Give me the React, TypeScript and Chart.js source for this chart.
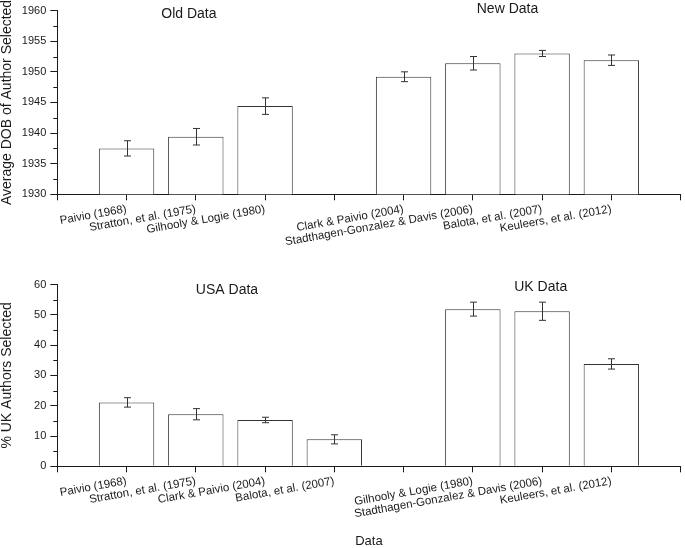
import React, { useEffect, useRef } from "react";
import { Chart, registerables } from "chart.js";

Chart.register(...registerables);

// ---------- DATA ----------
const topCategories = [
  "",
  "Paivio (1968)",
  "Stratton, et al. (1975)",
  "Gilhooly & Logie (1980)",
  "",
  "Clark & Paivio (2004)",
  "Stadthagen-Gonzalez & Davis (2006)",
  "Balota, et al. (2007)",
  "Keuleers, et al. (2012)",
  "",
];
const topValues = [null, 1937.5, 1939.4, 1944.4, null, 1949.2, 1951.4, 1953.0, 1951.9, null];
const topErrors = [null, 1.25, 1.35, 1.35, null, 0.8, 1.1, 0.5, 0.85, null];
const topGroupNames = ["Old Data", "New Data"];
const topYTitle = "Average DOB of Author Selected";

const bottomCategories = [
  "",
  "Paivio (1968)",
  "Stratton, et al. (1975)",
  "Clark & Paivio (2004)",
  "Balota, et al. (2007)",
  "",
  "Gilhooly & Logie (1980)",
  "Stadthagen-Gonzalez & Davis (2006)",
  "Keuleers, et al. (2012)",
  "",
];
const bottomValues = [null, 21.1, 17.2, 15.3, 8.9, null, 51.9, 51.2, 33.8, null];
const bottomErrors = [null, 1.55, 1.85, 0.9, 1.5, null, 2.3, 3.0, 1.7, null];
const bottomGroupNames = ["USA Data", "UK Data"];
const bottomYTitle = "% UK Authors Selected";
const xTitle = "Data";

// ---------- helpers ----------
const FONT = "Arial, 'Liberation Sans', Helvetica, sans-serif";
const INK = "#1a1a1a";

function makeErrorBarPlugin(errors: (number | null)[]) {
  return {
    id: "errorBars",
    afterDatasetsDraw(chart: any) {
      const ctx = chart.ctx;
      const xs = chart.scales.x;
      const ys = chart.scales.y;
      const values = chart.data.datasets[0].data as (number | null)[];
      ctx.save();
      ctx.strokeStyle = "#333";
      ctx.lineWidth = 1;
      values.forEach((v, i) => {
        const e = errors[i];
        if (v == null || e == null) return;
        const x = Math.round(xs.getPixelForValue(i)) + 0.5;
        const y1 = ys.getPixelForValue(v + e);
        const y2 = ys.getPixelForValue(v - e);
        ctx.beginPath();
        ctx.moveTo(x, y1);
        ctx.lineTo(x, y2);
        ctx.moveTo(x - 3.5, y1);
        ctx.lineTo(x + 3.5, y1);
        ctx.moveTo(x - 3.5, y2);
        ctx.lineTo(x + 3.5, y2);
        ctx.stroke();
      });
      ctx.restore();
    },
  };
}

function makeMinorTickPlugin(min: number, max: number, minor: number, major: number) {
  return {
    id: "minorTicks",
    afterDraw(chart: any) {
      const ctx = chart.ctx;
      const ys = chart.scales.y;
      const left = chart.chartArea.left;
      ctx.save();
      ctx.strokeStyle = INK;
      ctx.lineWidth = 1;
      for (let v = min; v <= max + 1e-9; v += minor) {
        if (Math.abs((v - min) / major - Math.round((v - min) / major)) < 1e-6) continue;
        const y = Math.round(ys.getPixelForValue(v)) + 0.5;
        ctx.beginPath();
        ctx.moveTo(left - 4, y);
        ctx.lineTo(left, y);
        ctx.stroke();
      }
      ctx.restore();
    },
  };
}

function makeGroupLabelPlugin(names: string[], spots: { x: number; y: number }[]) {
  return {
    id: "groupLabels",
    afterDraw(chart: any) {
      const ctx = chart.ctx;
      const xs = chart.scales.x;
      const ys = chart.scales.y;
      ctx.save();
      ctx.fillStyle = INK;
      ctx.font = `14px ${FONT}`;
      ctx.textAlign = "center";
      ctx.textBaseline = "middle";
      names.forEach((n, i) => {
        const s = spots[i];
        const x0 = xs.getPixelForValue(Math.floor(s.x));
        const x1 = xs.getPixelForValue(Math.floor(s.x) + 1);
        const px = x0 + (x1 - x0) * (s.x - Math.floor(s.x));
        ctx.fillText(n, px, ys.getPixelForValue(s.y));
      });
      ctx.restore();
    },
  };
}

function buildConfig(opts: {
  categories: string[];
  values: (number | null)[];
  errors: (number | null)[];
  yMin: number;
  yMax: number;
  yStep: number;
  yTitle: string;
  xTitle?: string;
  padTop: number;
  xAxisHeight: number;
  groupNames: string[];
  groupSpots: { x: number; y: number }[];
}): any {
  return {
    type: "bar",
    data: {
      labels: opts.categories,
      datasets: [
        {
          data: opts.values,
          backgroundColor: "#ffffff",
          borderColor: "#333333",
          borderWidth: 1,
          categoryPercentage: 1.0,
          barPercentage: 0.8,
        },
      ],
    },
    options: {
      responsive: false,
      animation: false,
      events: [],
      layout: { padding: { top: opts.padTop, right: 1.7, left: 0, bottom: 0 } },
      plugins: {
        legend: { display: false },
        tooltip: { enabled: false },
        title: { display: false },
      },
      scales: {
        x: {
          type: "category",
          offset: false,
          grid: {
            offset: false,
            drawOnChartArea: false,
            drawTicks: true,
            tickLength: 6,
            color: INK,
            tickColor: INK,
          },
          border: { display: true, color: INK, width: 1 },
          ticks: {
            autoSkip: false,
            maxRotation: 10,
            minRotation: 10,
            padding: 2,
            color: INK,
            font: { family: FONT, size: 11.5 },
          },
          title: opts.xTitle
            ? {
                display: true,
                text: opts.xTitle,
                color: INK,
                font: { family: FONT, size: 13, lineHeight: 1 },
                padding: 0,
              }
            : { display: false },
          afterFit(scale: any) {
            scale.height = opts.xAxisHeight;
          },
        },
        y: {
          min: opts.yMin,
          max: opts.yMax,
          grid: {
            drawOnChartArea: false,
            drawTicks: true,
            tickLength: 7,
            color: INK,
            tickColor: INK,
          },
          border: { display: true, color: INK, width: 1 },
          ticks: {
            stepSize: opts.yStep,
            padding: 4,
            color: INK,
            font: { family: FONT, size: 11 },
            callback: (v: any) => String(v),
          },
          title: {
            display: true,
            text: opts.yTitle,
            color: INK,
            font: { family: FONT, size: 14, lineHeight: 1 },
            padding: 0,
          },
          afterFit(scale: any) {
            scale.width = 57.3;
          },
        },
      },
    },
    plugins: [
      makeErrorBarPlugin(opts.errors),
      makeMinorTickPlugin(opts.yMin, opts.yMax, opts.yStep / 2, opts.yStep),
      makeGroupLabelPlugin(opts.groupNames, opts.groupSpots),
    ],
  };
}

export default function App() {
  const topRef = useRef<HTMLCanvasElement | null>(null);
  const botRef = useRef<HTMLCanvasElement | null>(null);

  useEffect(() => {
    const top = new Chart(
      topRef.current as HTMLCanvasElement,
      buildConfig({
        categories: topCategories,
        values: topValues,
        errors: topErrors,
        yMin: 1930,
        yMax: 1960,
        yStep: 5,
        yTitle: topYTitle,
        padTop: 9.3,
        xAxisHeight: 79.7,
        groupNames: topGroupNames,
        groupSpots: [
          { x: 1.9, y: 1959.4 },
          { x: 6.5, y: 1960.2 },
        ],
      })
    );
    const bottom = new Chart(
      botRef.current as HTMLCanvasElement,
      buildConfig({
        categories: bottomCategories,
        values: bottomValues,
        errors: bottomErrors,
        yMin: 0,
        yMax: 60,
        yStep: 10,
        yTitle: bottomYTitle,
        xTitle: xTitle,
        padTop: 7.7,
        xAxisHeight: 81.7,
        groupNames: bottomGroupNames,
        groupSpots: [
          { x: 2.45, y: 58.2 },
          { x: 6.98, y: 59.2 },
        ],
      })
    );
    return () => {
      top.destroy();
      bottom.destroy();
    };
  }, []);

  return (
    <div
      style={{
        position: "fixed",
        left: 0,
        top: 0,
        width: 685,
        height: 548,
        background: "#ffffff",
      }}
    >
      <canvas
        ref={topRef}
        width={685}
        height={274}
        style={{ position: "absolute", left: 0, top: 0, width: 685, height: 274 }}
      />
      <canvas
        ref={botRef}
        width={685}
        height={274}
        style={{ position: "absolute", left: 0, top: 274, width: 685, height: 274 }}
      />
    </div>
  );
}
